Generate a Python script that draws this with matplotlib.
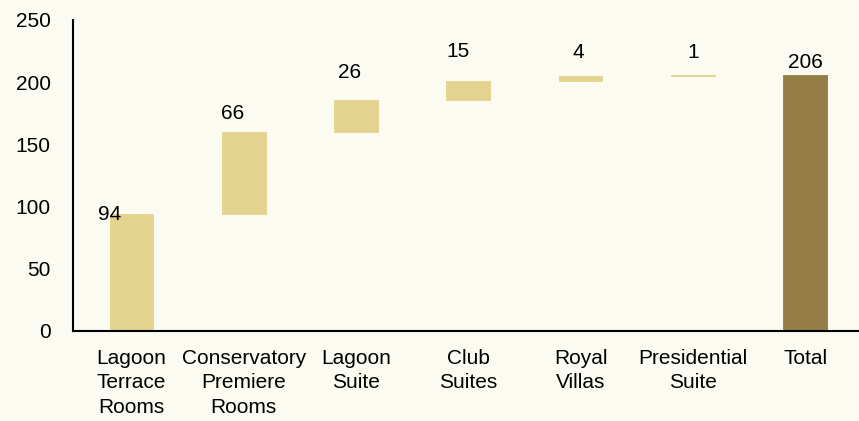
import numpy as np
import matplotlib.pyplot as plt

plt.rcParams['font.family'] = ['Liberation Sans', 'DejaVu Sans']

# room types and counts
categories = ['Lagoon\nTerrace\nRooms', 'Conservatory\nPremiere\nRooms', 'Lagoon\nSuite',
              'Club\nSuites', 'Royal\nVillas', 'Presidential\nSuite', 'Total']
counts = [94, 66, 26, 15, 4, 1]
total = 206
yticks = [0, 50, 100, 150, 200, 250]

bg = '#FCFBF1'
light = '#E3D38F'
dark = '#957D46'
fs = 15

fig = plt.figure(figsize=(8.59, 4.21), dpi=100, facecolor=bg)
ax = fig.add_axes([0.085, 0.2138, 0.915, 0.7387])
ax.set_facecolor(bg)

x = np.arange(len(categories))
bottoms = np.concatenate([[0], np.cumsum(counts)[:-1]])
heights = list(counts) + [total]
bots = list(bottoms) + [0]
colors = [light] * len(counts) + [dark]

ax.bar(x, heights, bottom=bots, width=0.39, color=colors, edgecolor=colors, linewidth=0.6)

# value labels (first one sits on the bar top, like the original)
dx = [-0.19, -0.1, -0.06, -0.09, -0.02, 0, 0]
dy = [0, 15, 22, 24, 19, 18, 10]
for i in range(len(x)):
    top = bots[i] + heights[i]
    ax.text(x[i] + dx[i], top + dy[i], str(heights[i]), ha='center', va='center',
            fontsize=fs, color='black')

ax.set_xlim(-0.52, len(x) - 0.52)
ax.set_ylim(0, 250)
ax.set_yticks(yticks)
ax.set_xticks(x)
ax.set_xticklabels(categories, linespacing=1.35)
ax.tick_params(axis='both', length=0, labelsize=fs)
ax.tick_params(axis='x', pad=13)
ax.tick_params(axis='y', pad=16)

for s in ['top', 'right']:
    ax.spines[s].set_visible(False)
for s in ['left', 'bottom']:
    ax.spines[s].set_linewidth(1.5)
    ax.spines[s].set_color('black')

fig.savefig('out.png', dpi=100, facecolor=bg)
